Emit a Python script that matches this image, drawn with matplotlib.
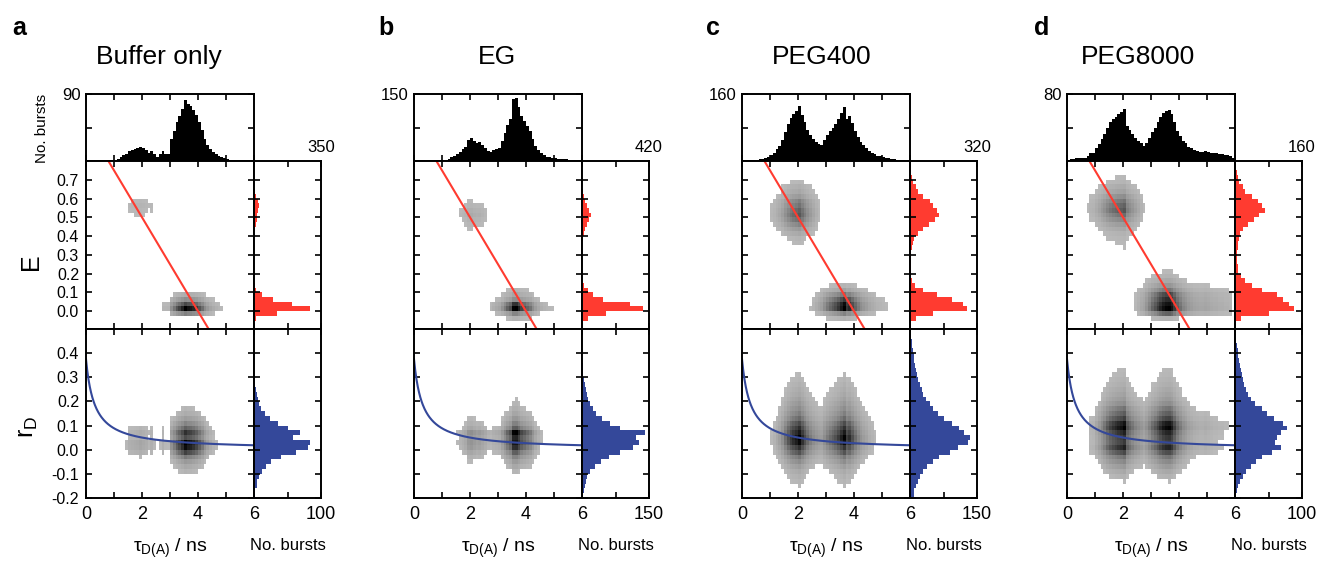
import numpy as np
import matplotlib
matplotlib.use("Agg")
import matplotlib.pyplot as plt
from matplotlib.colors import LinearSegmentedColormap

plt.rcParams['font.family'] = ['Liberation Sans', 'DejaVu Sans']
plt.rcParams['mathtext.fontset'] = 'custom'
plt.rcParams['mathtext.rm'] = 'Liberation Sans'
plt.rcParams['mathtext.it'] = 'Liberation Sans:italic'
plt.rcParams['axes.linewidth'] = 1.4

# ---- data ----
titles = ['Buffer only', 'EG', 'PEG400', 'PEG8000']
letters = ['a', 'b', 'c', 'd']

tau_edges = np.linspace(0, 6, 61)      # donor lifetime bins (ns)
E_edges = np.linspace(-0.1, 0.8, 37)   # FRET efficiency bins
r_edges = np.linspace(-0.2, 0.5, 36)   # anisotropy bins

# lifetime histograms (top panels), 0.1 ns bins
tau_a = [0, 0, 0, 0, 0, 0, 0, 0, 1, 1,
         2, 3, 5, 8, 10, 14, 15, 16, 17, 19,
         17, 15, 11, 14, 10, 6, 9, 14, 10, 9,
         30, 40, 52, 60, 70, 82, 76, 74, 69, 62,
         52, 42, 30, 22, 16, 12, 9, 7, 5, 4,
         3, 2, 2, 1, 1, 1, 1, 0, 0, 0]
tau_b = [0, 0, 0, 0, 0, 0, 0, 0, 0, 1,
         2, 3, 5, 8, 12, 16, 21, 26, 32, 48,
         52, 45, 40, 42, 36, 30, 22, 20, 25, 27,
         30, 45, 62, 80, 95, 138, 140, 120, 100, 90,
         78, 68, 50, 34, 24, 17, 13, 10, 8, 7,
         6, 5, 5, 4, 4, 3, 2, 1, 1, 0]
tau_c = [0, 0, 0, 1, 2, 3, 4, 5, 7, 10,
         15, 20, 28, 36, 50, 70, 88, 102, 112, 120,
         132, 110, 92, 75, 62, 52, 45, 40, 38, 50,
         62, 72, 80, 88, 100, 115, 130, 100, 108, 90,
         72, 58, 46, 38, 32, 24, 20, 16, 13, 11,
         9, 7, 6, 5, 4, 3, 2, 1, 1, 0]
tau_d = [1, 2, 2, 3, 3, 4, 4, 6, 9, 10,
         15, 20, 26, 32, 40, 46, 50, 53, 56, 58,
         62, 42, 37, 32, 27, 24, 21, 18, 22, 28,
         35, 40, 46, 52, 57, 60, 61, 56, 46, 36,
         30, 24, 21, 17, 15, 13, 12, 11, 11, 12,
         11, 10, 9, 9, 8, 8, 7, 7, 6, 3]

# FRET efficiency histograms (red), 0.025 bins
E_a = [0, 0, 10, 120, 290, 200, 100, 40, 12, 3,
       0, 0, 0, 0, 0, 0, 0, 0, 0, 0,
       1, 3, 8, 14, 18, 22, 28, 20, 10, 3,
       0, 0, 0, 0, 0, 0]
E_b = [0, 8, 40, 150, 380, 300, 130, 70, 35, 12,
       3, 0, 0, 0, 0, 0, 0, 0, 2, 5,
       10, 20, 30, 42, 55, 45, 30, 20, 10, 4,
       0, 0, 0, 0, 0, 0]
E_c = [0, 5, 30, 110, 270, 255, 200, 130, 60, 25,
       10, 6, 4, 3, 3, 4, 6, 9, 14, 20,
       38, 60, 90, 120, 140, 130, 110, 95, 60, 40,
       30, 15, 10, 6, 3, 1]
E_d = [0, 3, 14, 80, 140, 130, 115, 100, 65, 40,
       24, 14, 8, 6, 5, 5, 5, 6, 7, 9,
       12, 20, 30, 45, 58, 72, 65, 55, 40, 25,
       18, 10, 7, 4, 2, 1]

# donor anisotropy histograms (blue), 0.02 bins
r_a = [1, 2, 4, 5, 7, 12, 18, 26, 40, 62,
       80, 84, 58, 68, 50, 36, 24, 16, 11, 8,
       6, 4, 3, 2, 1, 0, 0, 0, 0, 0,
       0, 0, 0, 0, 0]
r_b = [2, 4, 6, 8, 12, 18, 30, 42, 60, 85,
       115, 128, 120, 140, 85, 62, 45, 32, 24, 18,
       14, 11, 8, 6, 4, 3, 2, 2, 1, 0,
       0, 0, 0, 0, 0]
r_c = [8, 10, 14, 18, 22, 28, 38, 52, 66, 90,
       108, 130, 135, 122, 110, 95, 75, 62, 52, 44,
       36, 30, 26, 22, 18, 15, 13, 11, 9, 8,
       6, 5, 4, 3, 2]
r_d = [2, 3, 5, 8, 12, 17, 24, 32, 40, 55,
       68, 60, 62, 68, 78, 72, 58, 48, 40, 30,
       24, 20, 17, 14, 12, 10, 9, 7, 6, 5,
       4, 3, 2, 1, 0]

tau_counts = [tau_a, tau_b, tau_c, tau_d]
E_counts = [E_a, E_b, E_c, E_d]
r_counts = [r_a, r_b, r_c, r_d]

tau_max = [90, 150, 160, 80]
E_max = [350, 420, 320, 160]
r_max = [100, 150, 150, 100]

# static FRET line and Perrin curve
tau_D0 = 4.0
r0 = 0.375
rho = 0.31

# where the high-FRET population ends in lifetime / starts in E
tau_split = [2.75, 2.75, 2.7, 2.65]
E_split = 0.25

# ---- layout in pixels ----
W, H = 1318, 565
main_left = [86, 414, 742, 1067]
main_w, side_w = 168, 67
y_top, y_E, y_r, y_bot = 94, 161, 329, 498
title_x = [159, 497, 822, 1138]
letter_x = [12, 378, 706, 1034]

red = '#ff3b30'
blue = '#34489a'
cloud_cmap = LinearSegmentedColormap.from_list(
    'cloud', ['#bababa', '#8a8a8a', '#4a4a4a', '#000000'])

fig = plt.figure(figsize=(W / 100, H / 100), dpi=100)


def px_axes(x0, y0, x1, y1):
    return fig.add_axes([x0 / W, 1 - y1 / H, (x1 - x0) / W, (y1 - y0) / H])


def px_text(x, y, s, **kw):
    fig.text(x / W, 1 - y / H, s, **kw)


def frame(ax):
    ax.tick_params(direction='in', length=4.3, width=1.2,
                   top=True, bottom=True, left=True, right=True,
                   labeltop=False, labelbottom=False,
                   labelleft=False, labelright=False)


E_ticks = np.round(np.arange(0, 0.71, 0.1), 1)
r_ticks = np.round(np.arange(-0.2, 0.41, 0.1), 1)
tt = np.linspace(0, 6, 400)

for i in range(4):
    x0 = main_left[i]
    x1 = x0 + main_w
    x2 = x1 + side_w
    tau = np.array(tau_counts[i], float)
    E = np.array(E_counts[i], float)
    r = np.array(r_counts[i], float)
    tc = (tau_edges[:-1] + tau_edges[1:]) / 2
    Ec = (E_edges[:-1] + E_edges[1:]) / 2

    # lifetime histogram on top
    ax_t = px_axes(x0, y_top, x1, y_E)
    ax_t.stairs(tau, tau_edges, fill=True, color='black')
    ax_t.set_xlim(0, 6)
    ax_t.set_ylim(0, tau_max[i])
    frame(ax_t)
    ax_t.set_xticks(range(7))
    ax_t.set_yticks([0, tau_max[i] / 2, tau_max[i]])
    ax_t.set_yticklabels(['', '', str(tau_max[i])])
    ax_t.tick_params(labelleft=True, labelsize=12, pad=4)

    # E vs tau: two populations, lifetime profile split smoothly
    ax_E = px_axes(x0, y_E, x1, y_r)
    w_hi = 1 / (1 + np.exp((tc - tau_split[i]) / 0.12))
    hi = Ec > E_split
    t_hi, t_lo = tau * w_hi, tau * (1 - w_hi)
    J = (np.outer(np.where(hi, E, 0), t_hi) / t_hi.sum()
         + np.outer(np.where(~hi, E, 0), t_lo) / t_lo.sum())
    thr = 0.05 * J.max()
    ax_E.pcolormesh(tau_edges, E_edges, np.ma.masked_less(J, thr),
                    cmap=cloud_cmap, vmin=thr, vmax=J.max())
    ax_E.plot(tt, 1 - tt / tau_D0, color=red, lw=1.5)
    ax_E.set_xlim(0, 6)
    ax_E.set_ylim(-0.095, 0.8)
    frame(ax_E)
    ax_E.set_xticks(range(7))
    ax_E.set_yticks(E_ticks)
    ax_E.set_yticklabels([f'{v:.1f}' for v in E_ticks])

    # E histogram (right)
    ax_Eh = px_axes(x1, y_E, x2, y_r)
    ax_Eh.stairs(E, E_edges, orientation='horizontal', fill=True, color=red)
    ax_Eh.set_xlim(0, E_max[i])
    ax_Eh.set_ylim(-0.095, 0.8)
    frame(ax_Eh)
    ax_Eh.set_yticks(E_ticks)
    ax_Eh.set_xticks([0, E_max[i] / 2, E_max[i]])
    ax_Eh.set_xticklabels(['', '', str(E_max[i])])
    ax_Eh.tick_params(labeltop=True, labelsize=12, pad=4)

    # rD vs tau
    ax_r = px_axes(x0, y_r, x1, y_bot)
    Jr = np.outer(r, tau) / tau.sum()
    thr = 0.1 * Jr.max()
    ax_r.pcolormesh(tau_edges, r_edges, np.ma.masked_less(Jr, thr),
                    cmap=cloud_cmap, vmin=thr, vmax=Jr.max())
    ax_r.plot(tt, r0 / (1 + tt / rho), color=blue, lw=1.5)
    ax_r.set_xlim(0, 6)
    ax_r.set_ylim(-0.2, 0.5)
    frame(ax_r)
    ax_r.set_xticks(range(7))
    ax_r.set_xticklabels(['0', '', '2', '', '4', '', '6'])
    ax_r.set_yticks(r_ticks)
    ax_r.set_yticklabels([f'{v:.1f}' for v in r_ticks])
    ax_r.tick_params(axis='x', labelbottom=True, labelsize=13, pad=6)

    # rD histogram (right)
    ax_rh = px_axes(x1, y_r, x2, y_bot)
    ax_rh.stairs(r, r_edges, orientation='horizontal', fill=True, color=blue)
    ax_rh.set_xlim(0, r_max[i])
    ax_rh.set_ylim(-0.2, 0.5)
    frame(ax_rh)
    ax_rh.set_yticks(r_ticks)
    ax_rh.set_xticks([0, r_max[i] / 2, r_max[i]])
    ax_rh.set_xticklabels(['', '', str(r_max[i])])
    ax_rh.tick_params(axis='x', labelbottom=True, labelsize=13, pad=6)

    if i == 0:
        ax_E.tick_params(axis='y', labelleft=True, labelsize=11.5, pad=5)
        ax_r.tick_params(axis='y', labelleft=True, labelsize=11.5, pad=5)
        px_text(42, 128, 'No. bursts', rotation=90, ha='center', va='center',
                fontsize=11)
        px_text(31, 262, 'E', rotation=90, ha='center', va='center',
                fontsize=18)
        px_text(28, 427, r'$\mathregular{r_D}$', rotation=90, ha='center',
                va='center', fontsize=18)

    px_text(letter_x[i], 35, letters[i], fontsize=18, fontweight='bold',
            ha='left', va='baseline')
    px_text(title_x[i], 64, titles[i], fontsize=19, ha='center',
            va='baseline')
    px_text(x0 + main_w / 2, 552, r'$\mathregular{\tau_{D(A)}}$ / ns',
            fontsize=14, ha='center', va='baseline')
    px_text(x1 + side_w / 2, 545, 'No. bursts', fontsize=12,
            ha='center', va='center')

fig.savefig('out.png', dpi=100)
